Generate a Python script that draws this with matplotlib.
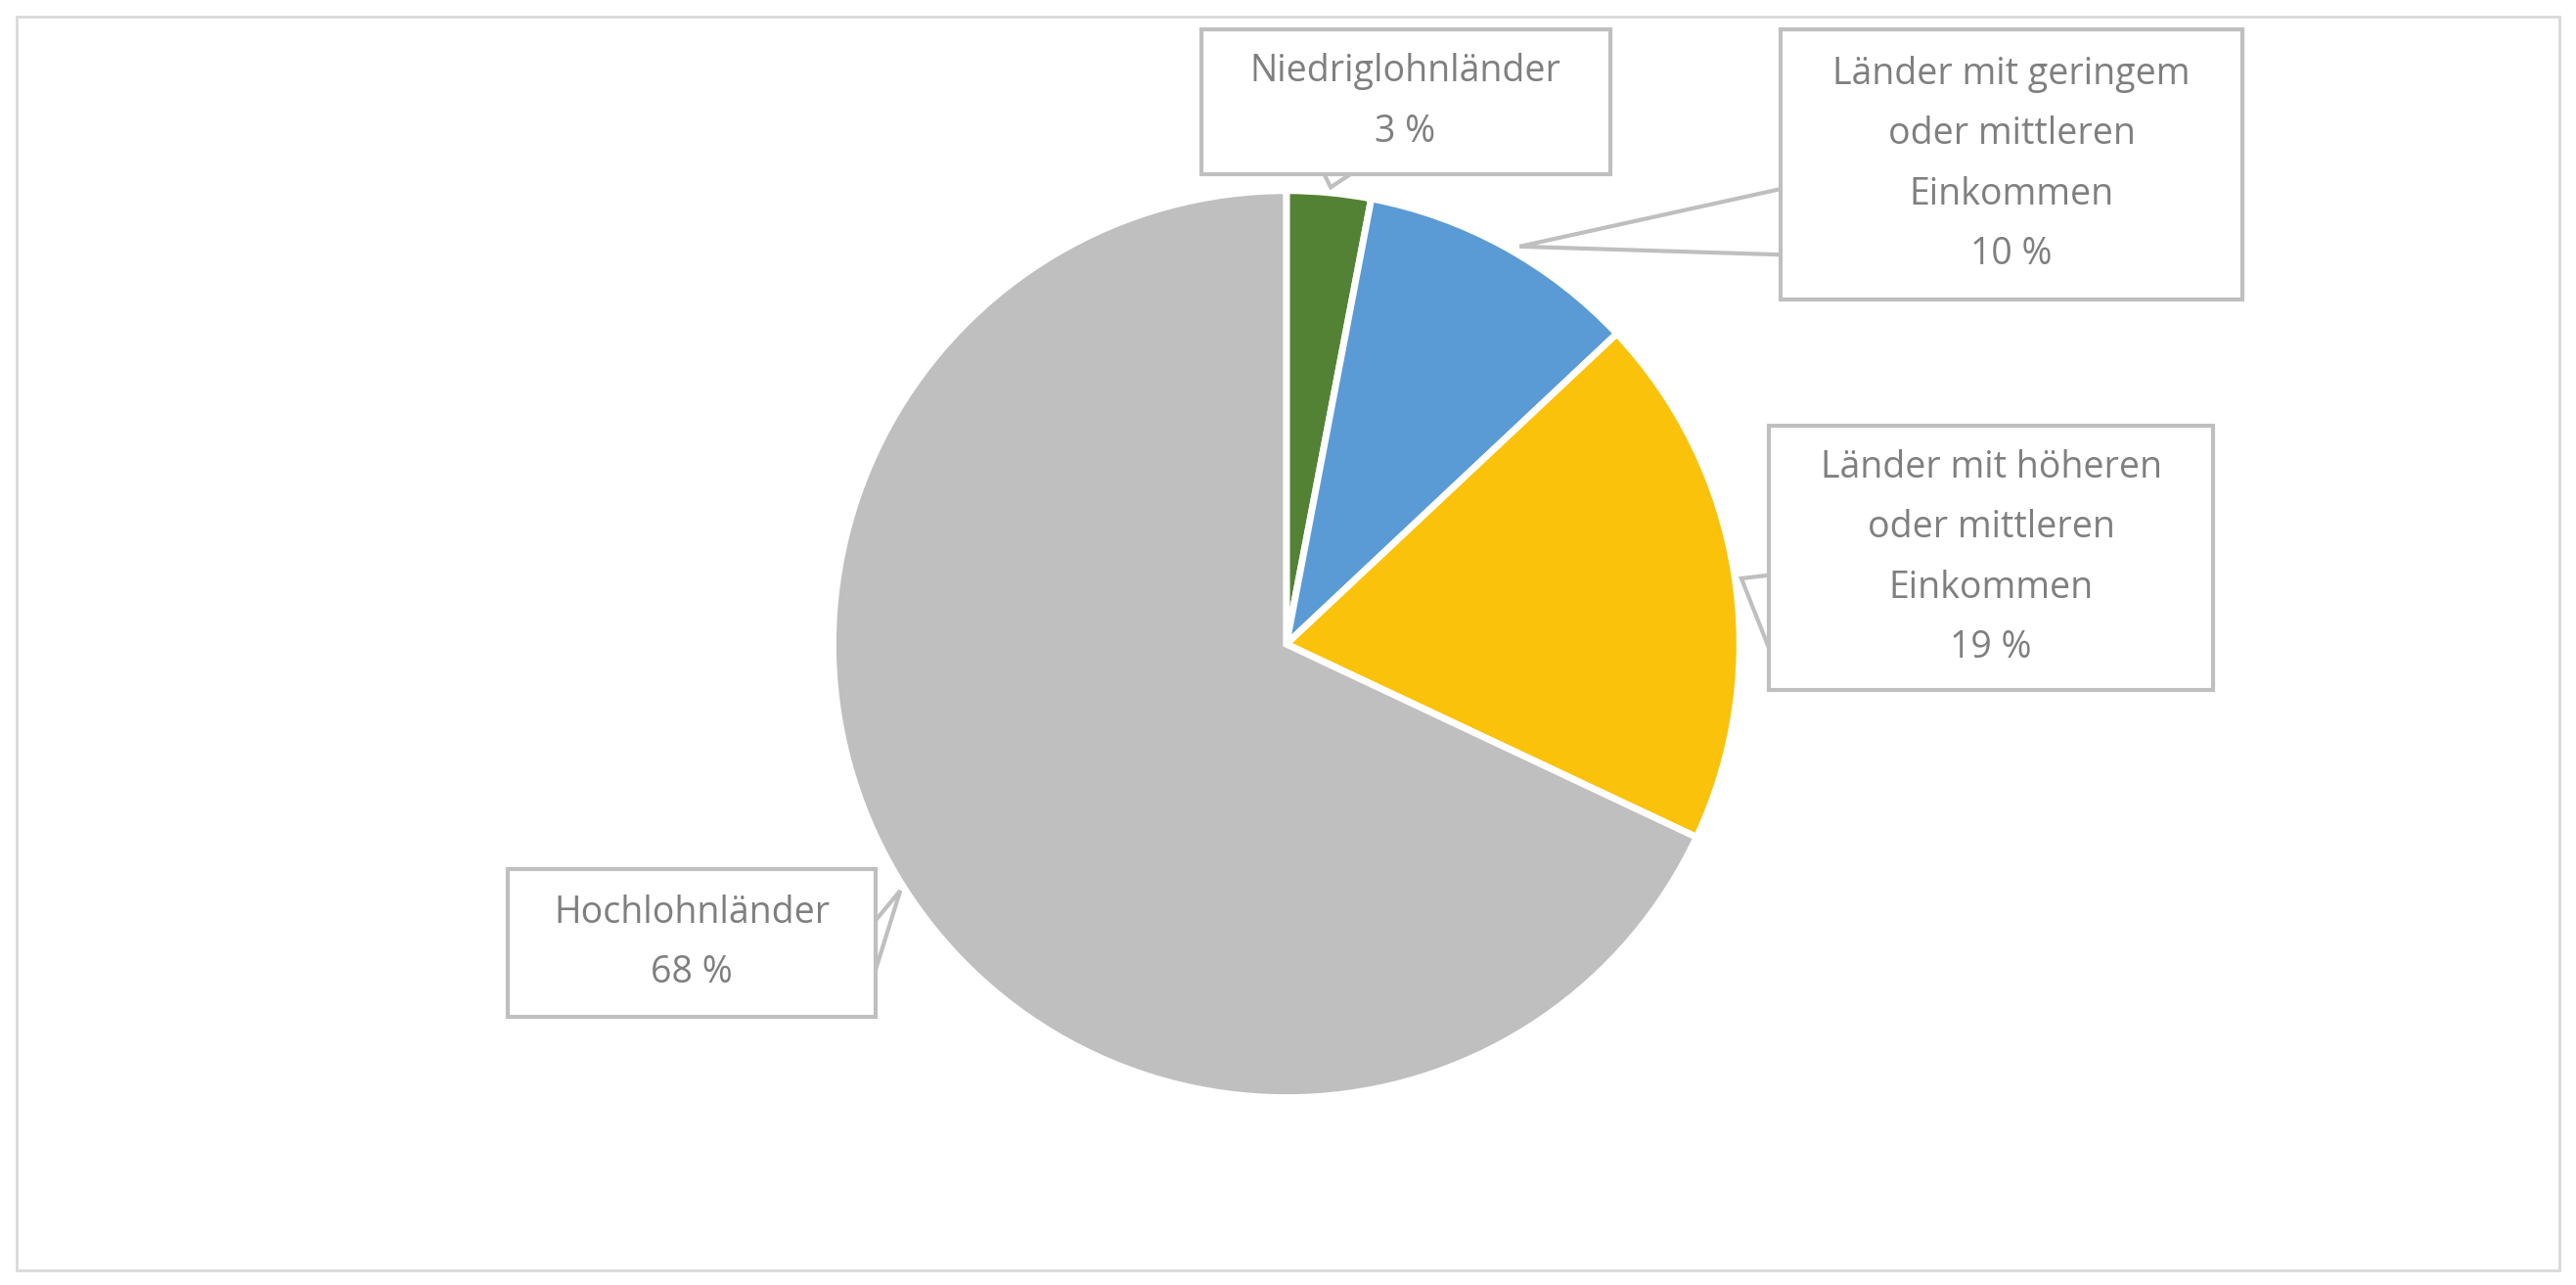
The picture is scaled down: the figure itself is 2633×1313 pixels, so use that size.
import matplotlib
matplotlib.use("Agg")
import matplotlib.pyplot as plt
from matplotlib.patches import Rectangle, Polygon

labels = ["Niedriglohnländer", "Länder mit geringem\noder mittleren\nEinkommen",
          "Länder mit höheren\noder mittleren\nEinkommen", "Hochlohnländer"]
values = [3, 10, 19, 68]
colors = ["#548235", "#5B9BD5", "#FAC20A", "#BFBFBF"]

W, H = 1568, 782
fig = plt.figure(figsize=(26.33, 13.13), dpi=100)
ax = fig.add_axes([0, 0, 1, 1])
ax.set_xlim(0, W); ax.set_ylim(0, H); ax.set_aspect("equal"); ax.axis("off")

def Y(y): return H - y

ax.add_patch(Rectangle((10, Y(773)), 1548, 763, fill=False, ec="#D9D9D9", lw=2))

ax.pie(values, colors=colors, startangle=90, counterclock=False,
       radius=276, center=(783, Y(392)),
       wedgeprops=dict(edgecolor="white", linewidth=5))
ax.set_xlim(0, W); ax.set_ylim(0, H)

boxes = [(731, 18, 980, 106), (1084, 18, 1365, 182), (1077, 259, 1347, 420), (309, 529, 533, 619)]
pointers = [
    [(806, 106), (822, 106), (810, 114)],
    [(1084, 115), (1084, 155), (925, 150)],
    [(1077, 350), (1077, 395), (1060, 352)],
    [(533, 560), (533, 590), (548, 542)],
]
tc = "#7F7F7F"
for (x0, y0, x1, y1), lab, v, ptr in zip(boxes, labels, values, pointers):
    ax.add_patch(Polygon([(x, Y(y)) for x, y in ptr], closed=True, fc="white", ec="#BFBFBF", lw=3, zorder=3))
    ax.add_patch(Rectangle((x0, Y(y1)), x1 - x0, y1 - y0, fc="white", ec="#BFBFBF", lw=3, zorder=4))
    ax.add_patch(Rectangle((x0 + 2, Y(y1) + 2), x1 - x0 - 4, y1 - y0 - 4, fc="white", ec="none", zorder=4.5))
    ax.text((x0 + x1) / 2, Y((y0 + y1) / 2), f"{lab}\n{v} %", ha="center", va="center",
            fontsize=27, color=tc, family="Open Sans", linespacing=1.8, zorder=5)

fig.savefig("out.png", dpi=100)
